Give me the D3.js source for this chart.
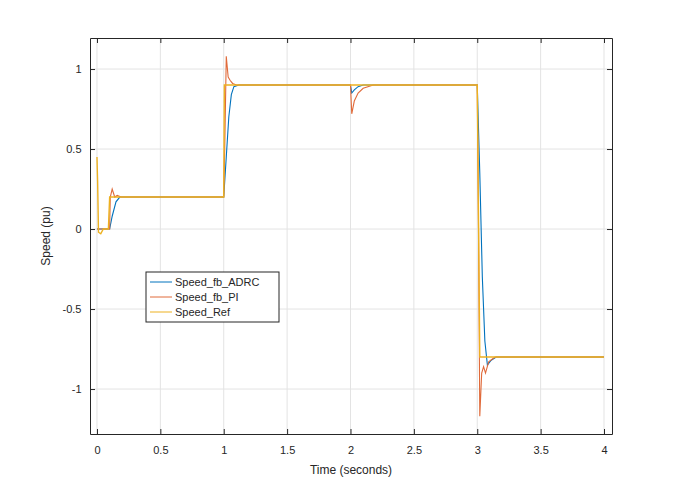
<!DOCTYPE html>
<html><head><meta charset="utf-8">
<script src="https://cdn.jsdelivr.net/npm/d3@7"></script>
<style>body{margin:0;background:#fff}text{font-family:"Liberation Sans",Arial,sans-serif}</style>
</head><body><div id="chart"></div>
<script>
// [time, speed] pairs
var adrc = [[0,0],[0.1,0],[0.12,0.08],[0.15,0.17],[0.18,0.2],[1.0,0.2],[1.02,0.45],[1.04,0.7],[1.06,0.84],[1.08,0.89],[1.12,0.9],[2.0,0.9],[2.01,0.85],[2.03,0.87],[2.06,0.89],[2.1,0.9],[3.0,0.9],[3.02,0.35],[3.04,-0.3],[3.06,-0.7],[3.08,-0.85],[3.11,-0.82],[3.15,-0.8],[4,-0.8]];
var pi = [[0,0],[0.1,0],[0.105,0.2],[0.12,0.25],[0.14,0.2],[0.16,0.21],[0.19,0.2],[1.0,0.2],[1.01,0.6],[1.02,1.08],[1.035,0.95],[1.05,0.93],[1.07,0.91],[1.1,0.9],[2.0,0.9],[2.01,0.72],[2.03,0.8],[2.06,0.85],[2.1,0.88],[2.18,0.9],[3.0,0.9],[3.01,0.0],[3.02,-1.17],[3.035,-0.9],[3.05,-0.86],[3.065,-0.9],[3.09,-0.83],[3.14,-0.8],[4,-0.8]];
var ref = [[0,0.45],[0.005,0.3],[0.012,-0.02],[0.03,-0.03],[0.05,0],[0.09,0],[0.1,0.2],[1.0,0.2],[1.005,0.9],[3.0,0.9],[3.02,-0.8],[4,-0.8]];
var xTicks = [0,0.5,1,1.5,2,2.5,3,3.5,4];
var yTicks = [-1,-0.5,0,0.5,1];
var names = ["Speed_fb_ADRC","Speed_fb_PI","Speed_Ref"];
var colors = ["#0072bd","#e06a3a","#edb120"];

var W = 680, H = 488, m = {l:90, r:68, t:38, b:54};
var svg = d3.select("#chart").append("svg").attr("width", W).attr("height", H);
var x = d3.scaleLinear().domain([-0.055, 4.063]).range([m.l, W - m.r]);
var y = d3.scaleLinear().domain([-1.281, 1.194]).range([H - m.b, m.t]);

svg.append("rect").attr("x", m.l).attr("y", m.t).attr("width", W-m.l-m.r).attr("height", H-m.t-m.b).attr("fill", "#fff");
var g = svg.append("g");
g.selectAll(".gx").data(xTicks).enter().append("line")
  .attr("x1", d => x(d)).attr("x2", d => x(d)).attr("y1", m.t).attr("y2", H-m.b).attr("stroke", "#e3e3e3");
g.selectAll(".gy").data(yTicks).enter().append("line")
  .attr("y1", d => y(d)).attr("y2", d => y(d)).attr("x1", m.l).attr("x2", W-m.r).attr("stroke", "#e3e3e3");

var line = d3.line().x(d => x(d[0])).y(d => y(d[1]));
[adrc, pi, ref].forEach(function (s, i) {
  svg.append("path").datum(s).attr("d", line).attr("fill", "none").attr("stroke", colors[i]).attr("stroke-width", i == 2 ? 1.4 : 1.1);
});

function ax(a, tr) {
  var e = svg.append("g").attr("transform", tr).call(a);
  e.select(".domain").attr("stroke", "#262626");
  e.selectAll(".tick line").attr("stroke", "#262626");
  e.selectAll("text").attr("fill", "#262626").style("font-size", "11px");
  return e;
}
var fmt = d => d === 0 ? "0" : String(d);
ax(d3.axisBottom(x).tickValues(xTicks).tickFormat(fmt).tickSize(-5).tickSizeOuter(0), "translate(0," + (H-m.b) + ")").selectAll("text").attr("dy", "1.5em");
ax(d3.axisLeft(y).tickValues(yTicks).tickFormat(fmt).tickSize(-5).tickSizeOuter(0), "translate(" + m.l + ",0)").selectAll("text").attr("dx", "-0.5em");
ax(d3.axisTop(x).tickValues(xTicks).tickFormat("").tickSize(-5).tickSizeOuter(0), "translate(0," + m.t + ")");
ax(d3.axisRight(y).tickValues(yTicks).tickFormat("").tickSize(-5).tickSizeOuter(0), "translate(" + (W-m.r) + ",0)");

svg.append("text").attr("x", (m.l + W - m.r)/2).attr("y", 474).attr("text-anchor", "middle").attr("fill", "#262626").style("font-size", "12px").text("Time (seconds)");
svg.append("text").attr("transform", "translate(50," + ((m.t + H - m.b)/2) + ") rotate(-90)").attr("text-anchor", "middle").attr("fill", "#262626").style("font-size", "12px").text("Speed (pu)");

var lg = svg.append("g").attr("transform", "translate(146,272)");
lg.append("rect").attr("width", 133).attr("height", 50).attr("fill", "#fff").attr("stroke", "#262626");
names.forEach(function (n, i) {
  var yy = 10 + i * 15;
  lg.append("line").attr("x1", 4).attr("x2", 26).attr("y1", yy).attr("y2", yy).attr("stroke", colors[i]);
  lg.append("text").attr("x", 29).attr("y", yy + 4).attr("fill", "#262626").style("font-size", "11px").text(n);
});
</script></body></html>
